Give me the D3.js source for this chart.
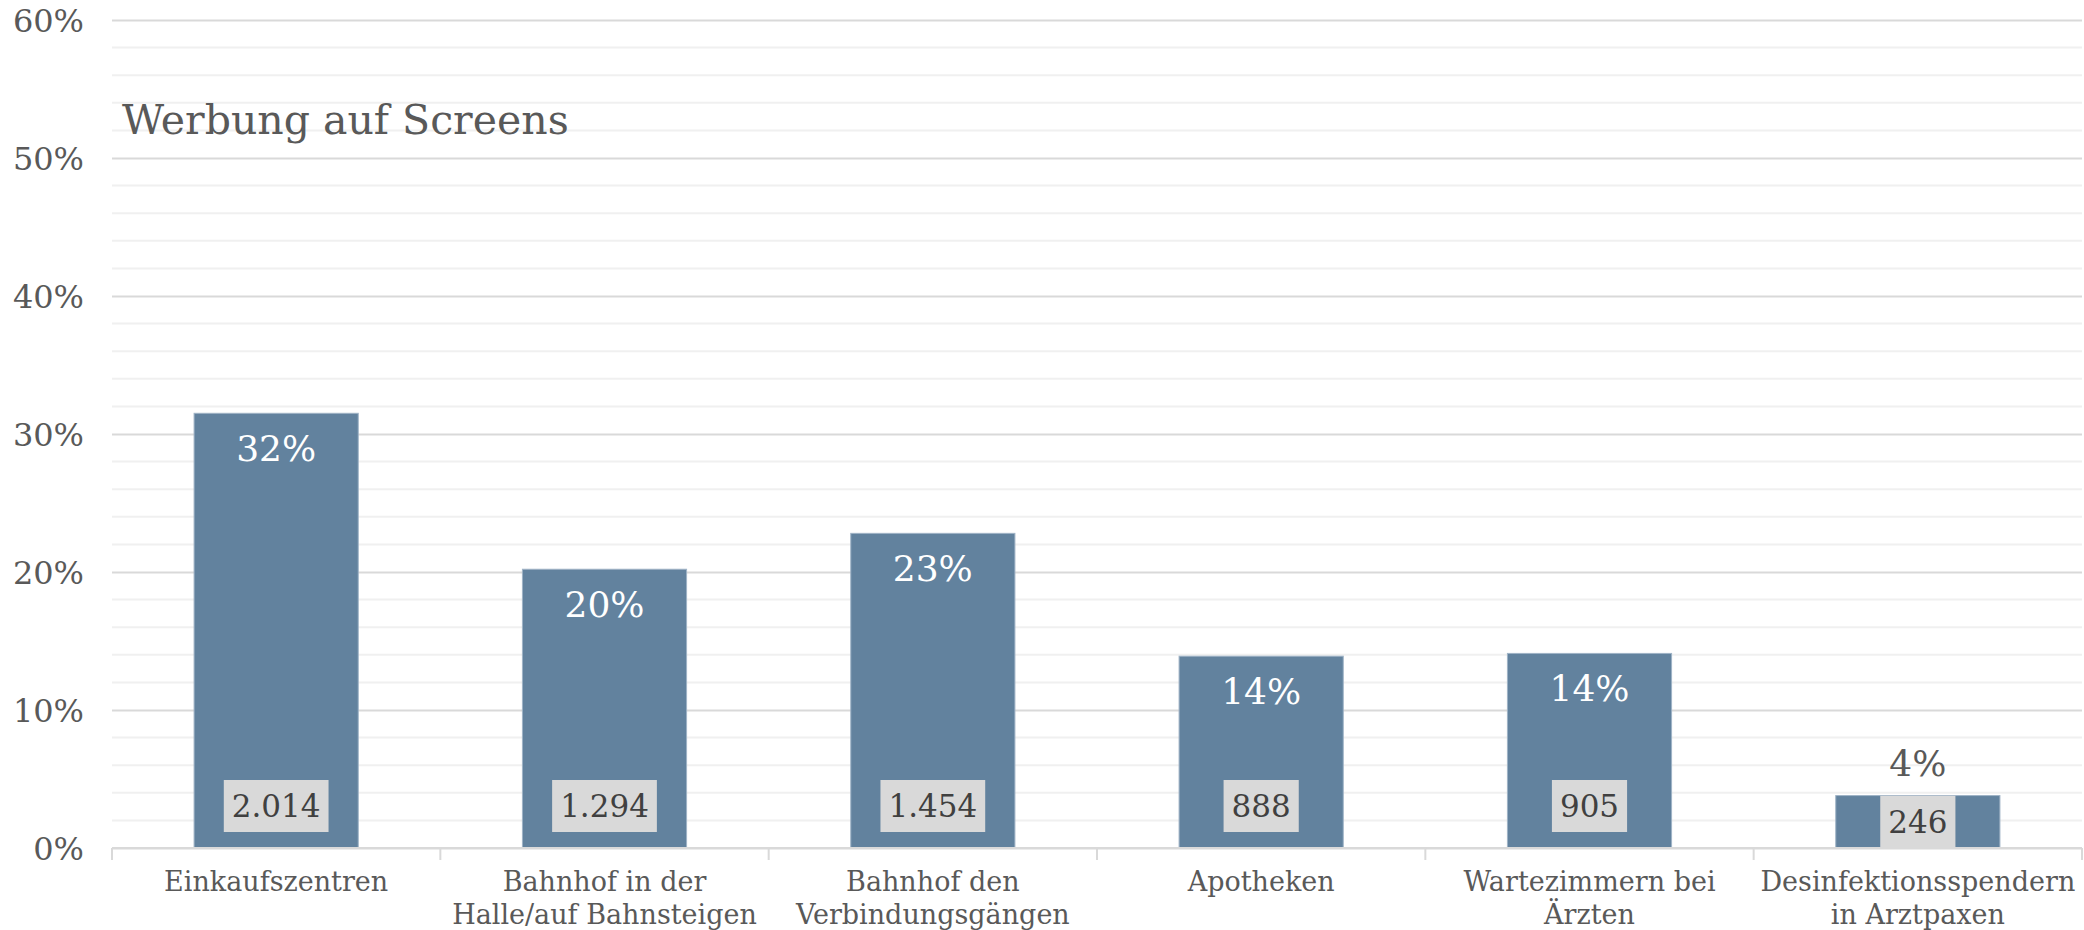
<!DOCTYPE html>
<html>
<head>
<meta charset="utf-8">
<script src="https://cdn.jsdelivr.net/npm/d3@7"></script>
<style>
    body { margin: 0; background: #fff; }
    svg { display: block; }
    text { font-family: "DejaVu Serif", serif; }
</style>
</head>
<body>
<div id="chart"></div>
<script>

var categories = [
    "Einkaufszentren",
    "Bahnhof in der\nHalle/auf Bahnsteigen",
    "Bahnhof den\nVerbindungsgängen",
    "Apotheken",
    "Wartezimmern bei\nÄrzten",
    "Desinfektionsspendern\nin Arztpaxen"
];
var shares = [31.5, 20.2, 22.8, 13.9, 14.1, 3.8];
var shareLabels = ["32%", "20%", "23%", "14%", "14%", "4%"];
var counts = ["2.014", "1.294", "1.454", "888", "905", "246"];
var yTicks = [0, 10, 20, 30, 40, 50, 60];

var width = 2084,
    height = 930,
    margin = { top: 20, right: 2, bottom: 82, left: 112 };

var data = categories.map(function(c, i) {
    return { name: c, share: shares[i], label: shareLabels[i], count: counts[i] };
});

var svg = d3.select("#chart")
    .append("svg")
    .attr("width", width)
    .attr("height", height);

var x = d3.scaleBand()
    .domain(categories)
    .range([margin.left, width - margin.right])
    .paddingInner(0.5)
    .paddingOuter(0.25);

var y = d3.scaleLinear()
    .domain([0, 60])
    .range([height - margin.bottom, margin.top]);

// minor grid every 2%
svg.append("g")
    .selectAll("line")
    .data(d3.range(2, 60, 2).filter(function(v) { return v % 10 != 0; }))
    .join("line")
    .attr("x1", margin.left)
    .attr("x2", width - margin.right)
    .attr("y1", d => y(d))
    .attr("y2", d => y(d))
    .attr("stroke", "#f0f0f0")
    .attr("stroke-width", 2);

// major grid + labels
var yAxis = svg.append("g")
    .attr("transform", "translate(" + margin.left + ",0)")
    .call(d3.axisLeft(y).tickValues(yTicks).tickSize(-(width - margin.left - margin.right)).tickPadding(28)
        .tickFormat(d => d + "%"));
yAxis.select(".domain").remove();
yAxis.selectAll(".tick line").attr("stroke", "#d9d9d9").attr("stroke-width", 2);
yAxis.selectAll(".tick text")
    .attr("fill", "#595959")
    .style("font-size", "32px")
    .attr("dy", "0.35em");

// title
svg.append("text")
    .attr("x", 122)
    .attr("y", 134)
    .attr("fill", "#595959")
    .style("font-size", "41px")
    .text("Werbung auf Screens");

// bars
svg.append("g")
    .selectAll("rect")
    .data(data)
    .join("rect")
    .attr("x", d => x(d.name))
    .attr("width", x.bandwidth())
    .attr("y", d => y(d.share))
    .attr("height", d => y(0) - y(d.share))
    .attr("fill", "#62829e")
    .attr("stroke", "#9fb3c6")
    .attr("stroke-width", 1);

// x axis with category separators
var xAxis = svg.append("g")
    .attr("transform", "translate(0," + y(0) + ")");
xAxis.append("line")
    .attr("x1", margin.left)
    .attr("x2", width - margin.right)
    .attr("stroke", "#d9d9d9")
    .attr("stroke-width", 2);
xAxis.selectAll(".sep")
    .data(d3.range(categories.length + 1))
    .join("line")
    .attr("class", "sep")
    .attr("x1", i => margin.left + i * (width - margin.left - margin.right) / categories.length)
    .attr("x2", i => margin.left + i * (width - margin.left - margin.right) / categories.length)
    .attr("y1", 0)
    .attr("y2", 12)
    .attr("stroke", "#d9d9d9")
    .attr("stroke-width", 2);

var catLabel = xAxis.selectAll(".cat")
    .data(data)
    .join("text")
    .attr("class", "cat")
    .attr("text-anchor", "middle")
    .attr("fill", "#595959")
    .style("font-size", "27px")
    .attr("transform", d => "translate(" + (x(d.name) + x.bandwidth() / 2) + ",43)");
catLabel.selectAll("tspan")
    .data(d => d.name.split("\n"))
    .join("tspan")
    .attr("x", 0)
    .attr("y", (d, i) => i * 33)
    .text(d => d);

// share labels: inside top of bar, or above when bar is short
svg.append("g")
    .selectAll("text")
    .data(data)
    .join("text")
    .attr("text-anchor", "middle")
    .attr("x", d => x(d.name) + x.bandwidth() / 2)
    .attr("y", function(d) {
        var h = y(0) - y(d.share);
        return h > 120 ? y(d.share) + 48 : y(d.share) - 20;
    })
    .attr("fill", function(d) {
        var h = y(0) - y(d.share);
        return h > 120 ? "#ffffff" : "#595959";
    })
    .style("font-size", "36px")
    .text(d => d.label);

// count labels in grey boxes
var countG = svg.append("g")
    .selectAll("g")
    .data(data)
    .join("g")
    .attr("transform", function(d) {
        var mid = (y(0) + y(d.share)) / 2;
        var cy = Math.max(y(0) - 42, mid);
        return "translate(" + (x(d.name) + x.bandwidth() / 2) + "," + cy + ")";
    });

countG.append("text")
    .attr("text-anchor", "middle")
    .attr("dy", "0.36em")
    .attr("fill", "#404040")
    .style("font-size", "31px")
    .text(d => d.count);

countG.each(function() {
    var g = d3.select(this);
    var bb = g.select("text").node().getBBox();
    g.insert("rect", "text")
        .attr("x", bb.x - 8)
        .attr("width", bb.width + 16)
        .attr("y", -26)
        .attr("height", 52)
        .attr("fill", "#d9d9d9");
});

</script>
</body>
</html>
